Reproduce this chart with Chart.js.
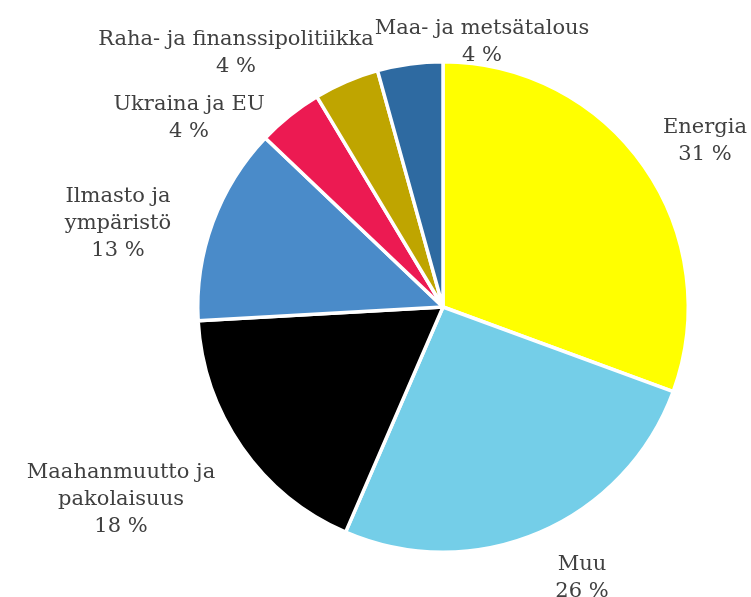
<!DOCTYPE html>
<html>
<head>
<meta charset="utf-8">
<script src="https://cdn.jsdelivr.net/npm/chart.js@4"></script>
<style>
  html, body { margin: 0; padding: 0; background: #ffffff; }
  #wrap { width: 751px; height: 597px; position: relative; }
</style>
</head>
<body>
<div id="wrap"><canvas id="c" width="751" height="597"></canvas></div>
<script>
// ---- data ----
const categories = [
  "Energia",
  "Muu",
  "Maahanmuutto ja pakolaisuus",
  "Ilmasto ja ympäristö",
  "Ukraina ja EU",
  "Raha- ja finanssipolitiikka",
  "Maa- ja metsätalous"
];
const shares = [30.6, 25.9, 17.6, 13.0, 4.3, 4.3, 4.3];
const percentLabels = ["31 %", "26 %", "18 %", "13 %", "4 %", "4 %", "4 %"];
const labelLines = [
  ["Energia"],
  ["Muu"],
  ["Maahanmuutto ja", "pakolaisuus"],
  ["Ilmasto ja", "ympäristö"],
  ["Ukraina ja EU"],
  ["Raha- ja finanssipolitiikka"],
  ["Maa- ja metsätalous"]
];

// ---- styling / layout ----
const colors = ["#FFFF00", "#74CEE8", "#000000", "#4A8BC9", "#EC1A52", "#BFA500", "#2E6AA1"];
// anchor: centre x, baseline of first line (pixels)
const labelAnchors = [
  [705, 133], [582, 570], [121, 478], [118, 202], [189, 110], [236, 45], [482, 34]
];
const LABEL_FONT = '21px "DejaVu Serif"';
const LINE_H = 27;

const labelPlugin = {
  id: 'sliceLabels',
  afterDatasetsDraw(chart) {
    const ctx = chart.ctx;
    ctx.save();
    ctx.font = LABEL_FONT;
    ctx.fillStyle = '#404040';
    ctx.textAlign = 'center';
    ctx.textBaseline = 'alphabetic';
    labelLines.forEach((lines, i) => {
      const [x, y] = labelAnchors[i];
      const all = lines.concat([percentLabels[i]]);
      all.forEach((t, k) => ctx.fillText(t, x, y + k * LINE_H));
    });
    ctx.restore();
  }
};

new Chart(document.getElementById('c'), {
  type: 'pie',
  data: {
    labels: categories,
    datasets: [{
      data: shares,
      backgroundColor: colors,
      borderColor: '#ffffff',
      borderWidth: 3.5
    }]
  },
  options: {
    responsive: false,
    animation: false,
    layout: { padding: { top: 60, bottom: 43, left: 143, right: 8 } },
    plugins: {
      legend: { display: false },
      tooltip: { enabled: false }
    }
  },
  plugins: [labelPlugin]
});
</script>
</body>
</html>
